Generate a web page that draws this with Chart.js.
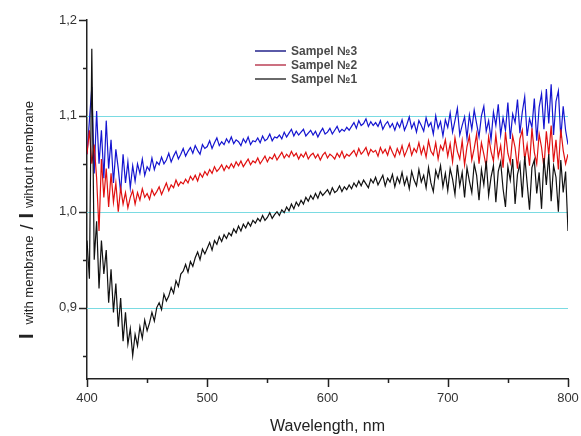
<!DOCTYPE html>
<html>
<head>
<meta charset="utf-8">
<script src="https://cdn.jsdelivr.net/npm/chart.js@4/dist/chart.umd.min.js"></script>
<style>
  html, body { margin: 0; padding: 0; background: #fff; }
  #wrap { width: 581px; height: 436px; }
</style>
</head>
<body>
<div id="wrap"><canvas id="spectra" width="581" height="436"></canvas></div>
<script>
// ─── Data ────────────────────────────────────────────
// spectra sampled every 2 nm, 400..800 nm
const wavelengths = [];
for (let w = 400; w <= 800; w += 2) wavelengths.push(w);

const sample3 = [
  1.06, 1.095, 1.13, 1.04, 1.105, 1.05, 1.085, 1.035, 1.095, 1.045,
  1.075, 1.03, 1.065, 1.045, 1.02, 1.06, 1.03, 1.052, 1.025, 1.048,
  1.032, 1.05, 1.04, 1.055, 1.038, 1.047, 1.043, 1.056, 1.044, 1.052,
  1.049, 1.057, 1.05, 1.054, 1.061, 1.052, 1.058, 1.063, 1.055, 1.06,
  1.066, 1.058, 1.063, 1.067, 1.061, 1.069, 1.064, 1.06, 1.07, 1.066,
  1.068, 1.074, 1.066, 1.072, 1.077, 1.069, 1.073, 1.07, 1.076, 1.072,
  1.078, 1.071, 1.075, 1.073, 1.069, 1.076, 1.072, 1.078, 1.07, 1.074,
  1.073, 1.077, 1.072, 1.079, 1.074, 1.076, 1.081, 1.074, 1.078, 1.077,
  1.08, 1.076, 1.083, 1.078, 1.082, 1.086, 1.079, 1.084, 1.08, 1.083,
  1.086, 1.079, 1.082, 1.085, 1.08, 1.084, 1.078, 1.083, 1.087, 1.081,
  1.083, 1.087, 1.081, 1.085, 1.089, 1.083, 1.086, 1.084, 1.088, 1.085,
  1.089, 1.093, 1.087, 1.095, 1.09, 1.092, 1.097, 1.089, 1.094, 1.09,
  1.093, 1.089, 1.095, 1.086, 1.091, 1.094, 1.088, 1.092, 1.085, 1.093,
  1.088, 1.096, 1.085, 1.091, 1.099, 1.087, 1.093, 1.083, 1.095, 1.09,
  1.084, 1.098, 1.089, 1.093, 1.081, 1.1, 1.087, 1.094, 1.079, 1.096,
  1.088, 1.103, 1.083, 1.095, 1.108, 1.08, 1.09, 1.099, 1.077, 1.101,
  1.086, 1.106, 1.092, 1.078, 1.1, 1.11, 1.084, 1.095, 1.075, 1.104,
  1.09, 1.112, 1.08, 1.098, 1.085, 1.114, 1.076, 1.102, 1.093, 1.117,
  1.082, 1.104, 1.12, 1.079, 1.097, 1.088, 1.118, 1.074, 1.109, 1.123,
  1.086, 1.128, 1.092, 1.133, 1.08, 1.115, 1.126, 1.077, 1.11, 1.085,
  1.07
];

const sample2 = [
  1.06, 1.085, 1.05, 1.07, 1.035, 0.98, 1.055, 1.015, 1.045, 1.005,
  1.04, 1.01, 1.03, 1.0, 1.025, 1.008, 1.02, 1.004, 1.015, 1.022,
  1.008, 1.02, 1.012, 1.024, 1.015, 1.019, 1.013, 1.023, 1.017, 1.021,
  1.026, 1.018, 1.024, 1.03, 1.022, 1.028, 1.025, 1.033, 1.027, 1.031,
  1.029, 1.034, 1.03, 1.037, 1.033, 1.038, 1.032, 1.04, 1.036, 1.042,
  1.038, 1.044, 1.04, 1.047, 1.042, 1.045, 1.049, 1.043, 1.048, 1.045,
  1.05, 1.046, 1.052, 1.048, 1.053, 1.047, 1.051, 1.055, 1.049, 1.053,
  1.051, 1.056, 1.05, 1.054, 1.058, 1.052, 1.057, 1.055, 1.06, 1.054,
  1.058, 1.062, 1.056, 1.06, 1.057, 1.063, 1.058, 1.061, 1.055, 1.06,
  1.057, 1.062, 1.055, 1.059, 1.061, 1.056, 1.06, 1.054, 1.059, 1.062,
  1.056, 1.06, 1.058, 1.055, 1.061, 1.057, 1.063, 1.056, 1.06, 1.058,
  1.061, 1.064, 1.058, 1.066, 1.06, 1.063, 1.067, 1.059, 1.065, 1.062,
  1.064, 1.058, 1.067, 1.061, 1.065, 1.059, 1.068, 1.062, 1.057, 1.066,
  1.06, 1.069, 1.058, 1.064, 1.071, 1.059, 1.066, 1.062, 1.072, 1.06,
  1.068, 1.057, 1.074, 1.063, 1.059, 1.072, 1.055, 1.069, 1.064, 1.075,
  1.058, 1.071, 1.052, 1.077, 1.063, 1.055, 1.074, 1.049, 1.068, 1.079,
  1.054, 1.066, 1.081, 1.05, 1.072, 1.06, 1.047, 1.078, 1.063, 1.053,
  1.08, 1.057, 1.069, 1.046, 1.083, 1.061, 1.051, 1.079, 1.067, 1.045,
  1.076, 1.085, 1.054, 1.07, 1.048, 1.087, 1.062, 1.05, 1.081, 1.067,
  1.046, 1.084, 1.059, 1.09, 1.052, 1.075, 1.044, 1.086, 1.064, 1.05,
  1.06
];

const sample1 = [
  0.97, 0.93, 1.17, 0.95, 0.99, 0.92, 0.97, 0.935, 0.96, 0.905,
  0.94, 0.895, 0.925, 0.88, 0.91, 0.865, 0.895, 0.862, 0.878, 0.85,
  0.872, 0.86, 0.88, 0.868, 0.887, 0.876, 0.884, 0.895, 0.886, 0.9,
  0.905, 0.898, 0.914, 0.907, 0.912, 0.921, 0.915, 0.928, 0.922, 0.935,
  0.938, 0.945, 0.937, 0.948, 0.943, 0.952, 0.958, 0.95, 0.961, 0.956,
  0.962, 0.968, 0.96, 0.97, 0.966, 0.974, 0.969, 0.976, 0.972, 0.978,
  0.975, 0.982, 0.978, 0.985, 0.98, 0.987, 0.983, 0.989, 0.985, 0.991,
  0.988, 0.993, 0.99, 0.996, 0.991, 0.994, 0.999, 0.993, 0.997, 1.0,
  0.996, 1.002, 0.999, 1.005, 1.001, 1.008, 1.003, 1.01, 1.006, 1.012,
  1.008, 1.015, 1.011, 1.017, 1.013, 1.019, 1.014, 1.021, 1.017, 1.02,
  1.023, 1.018, 1.025, 1.02, 1.022, 1.027, 1.021, 1.026, 1.023, 1.028,
  1.024, 1.03, 1.026, 1.032, 1.027, 1.033, 1.029, 1.025, 1.034, 1.03,
  1.036, 1.028, 1.033, 1.038, 1.027, 1.035, 1.031, 1.039, 1.026, 1.036,
  1.03, 1.041, 1.028, 1.036, 1.024, 1.042, 1.033, 1.027, 1.044, 1.031,
  1.038, 1.025, 1.046, 1.03, 1.021, 1.043, 1.035, 1.048, 1.026, 1.04,
  1.022, 1.045, 1.034, 1.018, 1.049, 1.027, 1.041, 1.015, 1.046, 1.032,
  1.02, 1.05, 1.038, 1.012, 1.044, 1.028, 1.053, 1.017, 1.036, 1.048,
  1.01, 1.042, 1.052, 1.024, 1.005, 1.047, 1.033, 1.055, 1.008, 1.039,
  1.05, 1.015, 1.058, 1.03, 1.002, 1.046, 1.054, 1.019, 1.041, 1.003,
  1.056, 1.028, 1.06, 1.011, 1.048, 1.036, 1.0, 1.054, 1.02, 1.042,
  0.98
];

const seriesNames = ["Sampel №3", "Sampel №2", "Sampel №1"];

const xTicks = [400, 500, 600, 700, 800];
const xMinorTicks = [450, 550, 650, 750];
const yTicks = [0.9, 1.0, 1.1, 1.2];
const yTickLabels = ["0,9", "1,0", "1,1", "1,2"];
const yMinorTicks = [0.85, 0.95, 1.05, 1.15];
const yGridLines = [0.9, 1.0, 1.1];

// ─── Helpers ─────────────────────────────────────────
function toPoints(values) {
  return values.map((v, i) => ({ x: wavelengths[i], y: v }));
}

// cyan reference lines, tick marks, y title and legend are drawn by hand
const decorPlugin = {
  id: "decor",
  beforeDatasetsDraw(chart) {
    const ctx = chart.ctx;
    const ys = chart.scales.y;
    const { left, right } = chart.chartArea;
    ctx.save();
    ctx.strokeStyle = "#7adbe2";
    ctx.lineWidth = 1.2;
    ctx.beginPath();
    yGridLines.forEach(v => {
      const py = Math.round(ys.getPixelForValue(v)) + 0.5;
      ctx.moveTo(left, py);
      ctx.lineTo(right, py);
    });
    ctx.stroke();
    ctx.restore();
  },
  afterDraw(chart) {
    const ctx = chart.ctx;
    const xs = chart.scales.x;
    const ys = chart.scales.y;
    const axisX = chart.chartArea.left;
    const axisY = chart.chartArea.bottom;

    ctx.save();
    ctx.strokeStyle = "#222";
    ctx.lineWidth = 1.5;
    ctx.beginPath();
    yTicks.forEach(v => {
      const py = Math.round(ys.getPixelForValue(v)) + 0.5;
      ctx.moveTo(axisX - 8, py);
      ctx.lineTo(axisX, py);
    });
    yMinorTicks.forEach(v => {
      const py = Math.round(ys.getPixelForValue(v)) + 0.5;
      ctx.moveTo(axisX - 4, py);
      ctx.lineTo(axisX, py);
    });
    xTicks.forEach(v => {
      const px = Math.round(xs.getPixelForValue(v)) + 0.5;
      ctx.moveTo(px, axisY);
      ctx.lineTo(px, axisY + 8);
    });
    xMinorTicks.forEach(v => {
      const px = Math.round(xs.getPixelForValue(v)) + 0.5;
      ctx.moveTo(px, axisY);
      ctx.lineTo(px, axisY + 4);
    });
    ctx.stroke();

    // y axis title: I with membrane / I wihtout membrane
    const parts = [
      { t: "I", font: "bold 20px Arial", gap: 9 },
      { t: "with membrane", font: "13px Arial", gap: 6 },
      { t: "/", font: "18px Arial", gap: 6 },
      { t: "I", font: "bold 20px Arial", gap: 5 },
      { t: "wihtout membrane", font: "13px Arial", gap: 0 },
    ];
    let total = 0;
    parts.forEach(p => {
      ctx.font = p.font;
      p.w = ctx.measureText(p.t).width;
      total += p.w + p.gap;
    });
    ctx.translate(33, 220);
    ctx.rotate(-Math.PI / 2);
    ctx.fillStyle = "#222";
    ctx.textBaseline = "alphabetic";
    ctx.textAlign = "left";
    let cx = -total / 2;
    parts.forEach(p => {
      ctx.font = p.font;
      ctx.fillText(p.t, cx, 0);
      cx += p.w + p.gap;
    });
    ctx.restore();

    // legend
    const legendColors = ["#5a5aa8", "#cc7080", "#6a6a6a"];
    const legendY = [51, 65, 79];
    ctx.save();
    ctx.font = "bold 12px Arial";
    ctx.textBaseline = "middle";
    ctx.fillStyle = "#4a4a4a";
    seriesNames.forEach((name, i) => {
      ctx.strokeStyle = legendColors[i];
      ctx.lineWidth = 2;
      ctx.beginPath();
      ctx.moveTo(255, legendY[i]);
      ctx.lineTo(286, legendY[i]);
      ctx.stroke();
      ctx.fillText(name, 291, legendY[i] + 1);
    });
    ctx.restore();
  },
};

// ─── Chart ───────────────────────────────────────────
const lineStyle = { borderWidth: 1.2, pointRadius: 0, tension: 0, fill: false };

new Chart(document.getElementById("spectra"), {
  type: "line",
  data: {
    datasets: [
      // first dataset is painted last, so black sits on top
      { label: seriesNames[2], data: toPoints(sample1), borderColor: "#111111", ...lineStyle },
      { label: seriesNames[1], data: toPoints(sample2), borderColor: "#e01010", ...lineStyle },
      { label: seriesNames[0], data: toPoints(sample3), borderColor: "#1515d0", ...lineStyle },
    ],
  },
  options: {
    responsive: false,
    animation: false,
    events: [],
    layout: { padding: { top: 20, right: 13, left: 0, bottom: 0 } },
    plugins: { legend: { display: false }, tooltip: { enabled: false } },
    scales: {
      x: {
        type: "linear",
        min: 400,
        max: 800,
        afterFit: s => { s.height = 57; s.paddingLeft = 0; s.paddingRight = 0; },
        afterBuildTicks: s => { s.ticks = xTicks.map(v => ({ value: v })); },
        grid: { drawOnChartArea: false, drawTicks: false },
        border: { display: true, color: "#222", width: 1.5 },
        ticks: {
          autoSkip: false,
          maxRotation: 0,
          padding: 12,
          color: "#333",
          font: { family: "Arial", size: 13 },
        },
        title: {
          display: true,
          text: "Wavelength, nm",
          color: "#222",
          font: { family: "Arial", size: 16 },
          padding: { top: 0, bottom: 0 },
        },
      },
      y: {
        min: 0.8255,
        max: 1.2,
        afterFit: s => { s.width = 87; s.paddingTop = 0; s.paddingBottom = 0; },
        afterBuildTicks: s => { s.ticks = yTicks.map(v => ({ value: v })); },
        grid: { drawOnChartArea: false, drawTicks: false },
        border: { display: true, color: "#222", width: 1.5 },
        ticks: {
          padding: 10,
          color: "#333",
          font: { family: "Arial", size: 13 },
          callback: (v) => {
            const i = yTicks.findIndex(t => Math.abs(t - v) < 1e-6);
            return i >= 0 ? yTickLabels[i] : "";
          },
        },
      },
    },
  },
  plugins: [decorPlugin],
});
</script>
</body>
</html>
